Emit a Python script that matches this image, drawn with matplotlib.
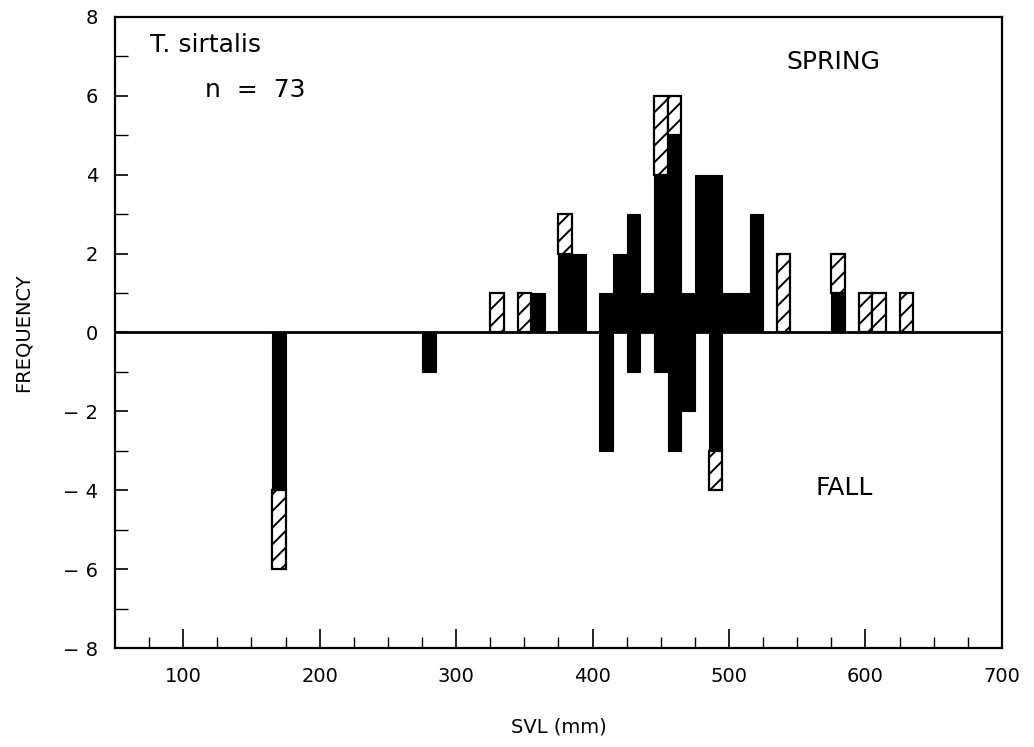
"""SVL frequency histogram for T. sirtalis, spring above / fall below."""

import matplotlib
matplotlib.use("Agg")
import matplotlib.pyplot as plt
import numpy as np

# bin centres (mm) and counts per bin
spring_solid_x = [360, 380, 390, 410, 420, 430, 440, 450, 460, 470, 480, 490, 500, 510, 520, 580]
spring_solid_n = [1, 2, 2, 1, 2, 3, 1, 4, 5, 1, 4, 4, 1, 1, 3, 1]

spring_hatch_x = [330, 350, 380, 450, 460, 540, 580, 600, 610, 630]
spring_hatch_n = [1, 1, 1, 2, 1, 2, 1, 1, 1, 1]

fall_solid_x = [170, 280, 410, 430, 450, 460, 470, 490]
fall_solid_n = [4, 1, 3, 1, 1, 3, 2, 3]

fall_hatch_x = [170, 490]
fall_hatch_n = [2, 1]

x_ticks = [100, 200, 300, 400, 500, 600, 700]
y_ticks = [-8, -6, -4, -2, 0, 2, 4, 6, 8]

BIN = 10
plt.rcParams["hatch.linewidth"] = 1.4
plt.rcParams["font.family"] = "DejaVu Sans"

fig = plt.figure(figsize=(10.34, 7.47), dpi=100)
ax = fig.add_axes([0.1112, 0.1325, 0.8578, 0.8448])


def solid_base(xs, lookup_x, lookup_n, sign):
    d = dict(zip(lookup_x, lookup_n))
    return [sign * d.get(x, 0) for x in xs]


# spring: solid from zero, hatched stacked on top
ax.bar(spring_solid_x, spring_solid_n, width=BIN, color="black", edgecolor="black", lw=0.8)
ax.bar(spring_hatch_x, spring_hatch_n, width=BIN,
       bottom=solid_base(spring_hatch_x, spring_solid_x, spring_solid_n, 1),
       color="white", edgecolor="black", hatch="//", lw=1.6)

# fall: negative
ax.bar(fall_solid_x, [-v for v in fall_solid_n], width=BIN, color="black", edgecolor="black", lw=0.8)
ax.bar(fall_hatch_x, [-v for v in fall_hatch_n], width=BIN,
       bottom=solid_base(fall_hatch_x, fall_solid_x, fall_solid_n, -1),
       color="white", edgecolor="black", hatch="//", lw=1.6)

ax.axhline(0, color="black", lw=2)

ax.set_xlim(50, 700)
ax.set_ylim(-8, 8)
ax.set_xticks(x_ticks)
ax.set_xticks(np.arange(75, 700, 25), minor=True)
ax.set_yticks(y_ticks)
ax.set_yticks(np.arange(-7, 8, 2), minor=True)
ax.set_yticklabels([str(v).replace("-", "\u2212 ") if v < 0 else str(v) for v in y_ticks])

ax.tick_params(which="major", direction="in", length=14, width=1.2, labelsize=14, pad=14)
ax.tick_params(which="minor", direction="in", length=8, width=1.0)
ax.tick_params(axis="y", which="major", length=9, pad=12)
ax.tick_params(axis="y", which="minor", length=9)
for s in ax.spines.values():
    s.set_linewidth(1.6)

ax.set_xlabel("SVL (mm)", fontsize=14, labelpad=22)
ax.set_ylabel("FREQUENCY", fontsize=14, labelpad=22)

ax.text(0.039, 0.956, "T. sirtalis", transform=ax.transAxes, fontsize=18, va="center")
ax.text(0.101, 0.884, "n  =  73", transform=ax.transAxes, fontsize=18, va="center")
ax.text(0.81, 0.929, "SPRING", transform=ax.transAxes, fontsize=18, va="center", ha="center")
ax.text(0.822, 0.254, "FALL", transform=ax.transAxes, fontsize=18, va="center", ha="center")

fig.savefig("out.png", dpi=100)
